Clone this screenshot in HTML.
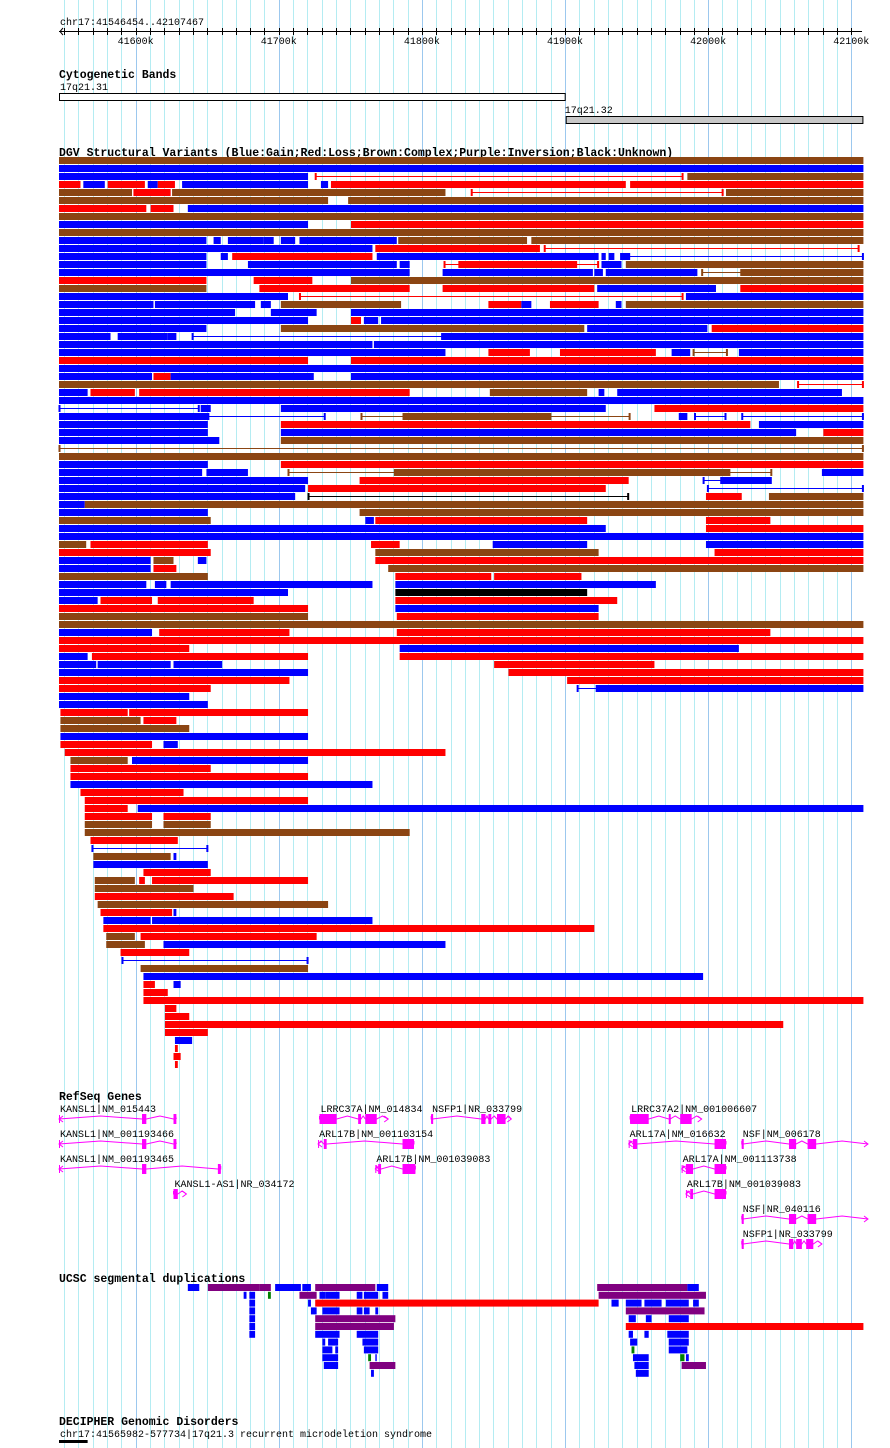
<!DOCTYPE html>
<html><head><meta charset="utf-8"><style>
html,body{margin:0;padding:0;background:#fff;}
svg{display:block;}
text{font-family:"Liberation Mono","DejaVu Sans Mono",monospace;font-size:10px;fill:#000;}
.t{font-weight:bold;font-size:11.5px;}
</style></head><body>
<svg id="c" width="890" height="1448" xmlns="http://www.w3.org/2000/svg"></svg>
<script>
// Region: chr17:41546454..42107467, values are kb offsets from region start
const START_KB = 41546.454;
const SPAN_KB = 561.013;
const axisTicksKb = [41600, 41700, 41800, 41900, 42000, 42100];
const tickLabels = ["41600k","41700k","41800k","41900k","42000k","42100k"];
const cytoBands = [["17q21.31", 0, 354, "#ffffff"], ["17q21.32", 354, 562, "#c8c8c8"]];
// DGV rows: token = colorLetter + start-end ; Uppercase bar, lowercase thin line
const dgvRows = [
"B0-562","U0-562","U0-174 r179-436 B439-562",
"R0-15 U17-32 R34-60 U62-69 R69-81 U86-174 U183-188 R190-396 R399-562",
"B0-51 R52-78 B79-270 r288-464 B466-562","B0-188 B202-562","R0-61 R64-80 U90-562","B0-562",
"U0-174 R204-562","B0-562",
"U0-103 U108-113 U118-143 U143-150 U155-165 U168-236 B237-327 B330-562",
"U0-219 R221-336 r339-559",
"U0-103 U113-118 R121-219 U222-377 U379-382 U384-388 U392-398 u398-562",
"U0-103 U132-236 U238-245 r269-377 R279-362 U379-393 B396-562",
"U0-245 U268-373 U374-380 U382-446 b449-477 B477-562",
"R0-103 R136-177 B204-562","B0-103 R140-245 R268-374 U376-459 R476-562",
"U0-160 r168-436 U438-562",
"U0-66 U67-137 U141-148 B155-239 R300-323 U323-330 R343-377 U389-393 B396-562",
"U0-123 U148-180 U204-562","U0-174 R204-211 U213-223 U225-562",
"U0-103 B155-367 U369-453 R456-562","U0-36 U41-76 U76-82 u93-268 U268-562",
"U0-219 U220-562","U0-270 R300-329 R350-417 U428-441 b443-467 U475-562",
"R0-174 R204-562","U0-562","U0-65 R66-78 U78-178 U204-562","B0-503 r516-562",
"U0-20 R22-53 R56-245 B301-369 U377-381 U390-547","U0-562",
"u0-98 U99-106 U155-382 R416-562",
"U0-104 u104-186 b211-399 B240-344 U433-439 u444-466 u477-562",
"U0-104 R155-483 U489-562","U0-104 U155-515 R534-562","U0-112 B155-562","b0-562",
"B0-562","U0-104 R155-562","U0-100 U103-132 b160-235 B235-468 b468-498 U533-562",
"U0-174 R210-398 u450-463 U463-498","U0-172 R174-382 u453-562",
"U0-165 k174-398 R452-477 B496-562","U0-18 B18-562","U0-104 B210-562",
"B0-106 U214-220 R221-369 R452-497","U0-382 R452-562","U0-562",
"B0-19 R22-104 R218-238 U303-369 U452-562","R0-106 B221-377 R458-562",
"U0-64 B66-80 U97-103 R221-562","U0-64 R66-82 B230-562","B0-104 R235-302 R304-365",
"U0-61 U67-75 U78-219 U235-417","U0-160 K235-369","U0-27 R29-65 R69-136 R235-390",
"R0-174 U235-377","B0-174 R236-377","B0-562","U0-65 R70-161 R236-497","R0-562",
"R0-91 U238-475","U0-20 R23-174 R238-562","U0-26 U27-78 U80-114 R304-416",
"U0-174 R314-562","R0-161 R355-562","R0-106 u362-376 U376-562","U0-91","U0-104",
"R1-48 R49-174","B1-57 R59-82","B1-91","U1-174","R1-65 U73-83","R4-270",
"B8-48 U51-174","R8-106","R8-174","U8-219","R15-87","R18-174","R18-48 U55-562",
"R18-65 R73-106","B18-65 B73-106","B18-245","R22-83","u23-104","B24-78 U80-82",
"U24-104","R59-106","B25-53 R56-60 R65-174","B25-94","R25-122","B27-188",
"R29-79 U80-82","U31-64 U65-219","R31-374","B33-53 R57-180","B33-60 U73-270",
"R43-91","u44-174","B57-174","U59-450","R59-67 U80-85","R59-76","R59-562",
"R74-82","R74-91","R74-506","R74-104","U81-93","R81-83","R80-85","R81-83"
];
const segDupRows = [
"U90-98 P104-140 P140-148 U151-169 U170-176 P179-221 U222-230 P376-439 U439-447",
"U129-131 U133-137 G146-148 P168-180 U182-186 U186-196 U208-212 U213-223 U226-230 P377-452",
"U133-137 U174-176 R179-377 U386-391 U396-407 U409-421 U424-440 U443-447",
"U133-137 U176-180 U184-196 U208-212 U213-217 U221-223 P396-451",
"U133-137 P179-235 U398-403 U410-414 U426-440",
"U133-137 P179-234 R396-562",
"U133-137 U179-196 U208-223 U398-401 U409-412 U425-440",
"U184-186 U188-195 U212-223 U399-404 U426-440",
"U184-191 U193-195 U213-223 G400-402 U426-439",
"U184-195 G216-218 U221-222 U401-412 G434-437 U438-440",
"U185-195 P217-235 U402-412 P435-452",
"U218-220 U403-412"
];
const geneNames = ["KANSL1|NM_015443","KANSL1|NM_001193466","KANSL1|NM_001193465","KANSL1-AS1|NR_034172",
"LRRC37A|NM_014834","NSFP1|NR_033799","ARL17B|NM_001103154","ARL17B|NM_001039083",
"LRRC37A2|NM_001006607","ARL17A|NM_016632","NSF|NM_006178","ARL17A|NM_001113738",
"ARL17B|NM_001039083","NSF|NR_040116","NSFP1|NR_033799"];
const geneRows = [0,1,2,3,0,0,1,2,0,1,1,2,3,4,5];
const geneSpans = [[0,81],[0,81],[0,113],[80,89],[182,230],[260,316],[181,248],[221,249],[399,449],[398,466],[477,566],[435,466],[438,466],[477,566],[477,533]];
const geneStrands = ["-","-","-","+","+","+","-","-","+","-","+","-","-","+","+"];
const geneExons = [[[58,61],[80,82]],[[58,61],[80,82]],[[58,61],[111,113]],[[80,83]],
[[182,194],[209,211],[214,222]],[[260,261],[295,298],[300,302],[306,312]],[[185,187],[240,248]],[[223,225],[240,249]],
[[399,412],[426,427],[434,442]],[[401,404],[458,466]],[[477,478],[510,515],[523,529]],[[438,443],[458,466]],
[[441,443],[458,466]],[[477,478],[510,515],[523,529]],[[477,478],[510,513],[515,519],[522,527]]];
const decipherLabel = "chr17:41565982-577734|17q21.3 recurrent microdeletion syndrome";
const decipherSpan = [0, 20];

const X0 = 59, X1 = 862;
const xs = off => X0 + off * (X1 - X0) / SPAN_KB;
const xg = kb => xs(kb - START_KB);
const svg = document.getElementById('c');
const NS = "http://www.w3.org/2000/svg";
function mk(tag, attrs, parent) {
  const e = document.createElementNS(NS, tag);
  for (const k in attrs) e.setAttribute(k, attrs[k]);
  (parent || svg).appendChild(e);
  return e;
}
const COL = {U:"#0000ff", R:"#ff0000", B:"#8b4513", K:"#000000", P:"#800080", G:"#008000"};

// grid
const grid = mk('g', {});


for (let kb = 41550; kb <= 42100; kb += 10) {
  const x = Math.round(xg(kb)) + 0.5;
  const l = mk('line', {x1:x, x2:x, y1:0, y2:1448, stroke: kb % 100 === 0 ? "#9cc8ee" : "#b4ecf2", 'stroke-width':1}, grid);
  
  
}

function txt(s, x, y, cls, name) {
  const t = mk('text', {x:x, y:y});
  if (cls) t.setAttribute('class', cls);
  t.textContent = s;
  
  
  return t;
}

// ruler
txt("chr17:41546454..42107467", 60, 25, "", "position-label");
const ax = mk('g', {});


mk('line', {x1:X0, x2:X1, y1:31.5, y2:31.5, stroke:"#000"}, ax);
mk('polyline', {points:`${X0+4},28 ${X0+1},31.5 ${X0+4},35`, fill:"none", stroke:"#000"}, ax);
for (let kb = 41550; kb <= 42100; kb += 10) {
  const x = Math.round(xg(kb)) + 0.5;
  mk('line', {x1:x, x2:x, y1:28, y2:35, stroke:"#000"}, ax);
}
axisTicksKb.forEach((kb, i) => {
  const t = mk('text', {x: xg(kb), y: 44, 'text-anchor':'middle'}, ax);
  t.textContent = tickLabels[i];
  
  
});

// cytobands
txt("Cytogenetic Bands", 59, 78, "t", "cytoband-track-title");
cytoBands.forEach((b, i) => {
  const y = 93 + i * 23;
  txt(b[0], xs(b[1]) + (i ? -1 : 1), y - 3, "", "cytoband-label");
  const r = mk('rect', {x: xs(b[1]) + 0.5, y: y + 0.5, width: xs(b[2]) - xs(b[1]) - 1, height: 7, fill: b[3], stroke:"#000"});
  
  
});

// generic feature rows
function drawRows(rows, y0, pitch, name) {
  const g = mk('g', {});
  
  
  rows.forEach((row, i) => {
    const y = y0 + i * pitch;
    const toks = row.split(' ');
    const lines = toks.filter(t => t[0] === t[0].toLowerCase());
    const bars = toks.filter(t => t[0] !== t[0].toLowerCase());
    lines.concat(bars).forEach(tok => {
      const c = tok[0];
      const [s, e] = tok.slice(1).split('-').map(Number);
      const col = COL[c.toUpperCase()];
      const xa = xs(s), xb = xs(e);
      if (c === c.toLowerCase()) {
        const l = mk('g', {}, g);
        mk('line', {x1:xa, x2:xb, y1:y+3.5, y2:y+3.5, stroke:col}, l);
        mk('line', {x1:xa+0.5, x2:xa+0.5, y1:y, y2:y+7, stroke:col, 'stroke-width':2}, l);
        mk('line', {x1:xb-0.5, x2:xb-0.5, y1:y, y2:y+7, stroke:col, 'stroke-width':2}, l);
        
        
      } else {
        const r = mk('rect', {x:xa, y:y, width:Math.max(1, xb - xa), height:7, fill:col}, g);
        
        
      }
    });
  });
}
txt("DGV Structural Variants (Blue:Gain;Red:Loss;Brown:Complex;Purple:Inversion;Black:Unknown)", 59, 156, "t", "dgv-track-title");
drawRows(dgvRows, 157, 8, "dgv-track");

// genes
txt("RefSeq Genes", 59, 1100, "t", "refseq-track-title");
const gg = mk('g', {});


const MAG = "#ff00ff";
geneNames.forEach((nm, i) => {
  const ly = 1112 + geneRows[i] * 25, y = ly + 7;
  const [s, e] = geneSpans[i];
  const xa = xs(s), xb = Math.min(xs(e), 868);
  const g = mk('g', {}, gg);
  
  
  const t = mk('text', {x: xa + 1, y: ly}, g);
  t.textContent = nm;
  // intron hump
  const ex = geneExons[i];
  let pts = [[xa, y]];
  const bounds = [s].concat(...ex.map(v => [v[0], v[1]])).concat([e]).sort((a,b)=>a-b);
  for (let k = 0; k + 1 < bounds.length; k += 2) {
    const a = xs(bounds[k]), b = Math.min(xs(bounds[k+1]), 868);
    pts.push([a, y], [(a+b)/2, y-3], [b, y]);
  }
  mk('polyline', {points: pts.map(p => p.join(',')).join(' '), fill:"none", stroke:MAG}, g);
  ex.forEach(v => {
    mk('rect', {x: xs(v[0]), y: y-5, width: Math.max(2, xs(v[1]) - xs(v[0])), height: 10, fill: MAG}, g);
  });
  mk('line', {x1:xa+0.5, x2:xa+0.5, y1:y-4, y2:y+4, stroke:MAG}, g);
  if (geneStrands[i] === "+") {
    mk('polyline', {points:`${xb-4},${y-3} ${xb},${y} ${xb-4},${y+3}`, fill:"none", stroke:MAG}, g);
  } else {
    mk('polyline', {points:`${xa+4},${y-3} ${xa},${y} ${xa+4},${y+3}`, fill:"none", stroke:MAG}, g);
    mk('line', {x1:xb-0.5, x2:xb-0.5, y1:y-4, y2:y+4, stroke:MAG}, g);
  }
});

// segmental duplications
txt("UCSC segmental duplications", 59, 1282, "t", "segdup-track-title");
drawRows(segDupRows, 1284, 7.8, "segdup-track");

// decipher
txt("DECIPHER Genomic Disorders", 59, 1425, "t", "decipher-track-title");
txt(decipherLabel, 60, 1437, "", "decipher-label");
const dr = mk('rect', {x: xs(decipherSpan[0]), y: 1440, width: xs(decipherSpan[1]) - xs(decipherSpan[0]), height: 3, fill: "#000"});


</script>
</body></html>
